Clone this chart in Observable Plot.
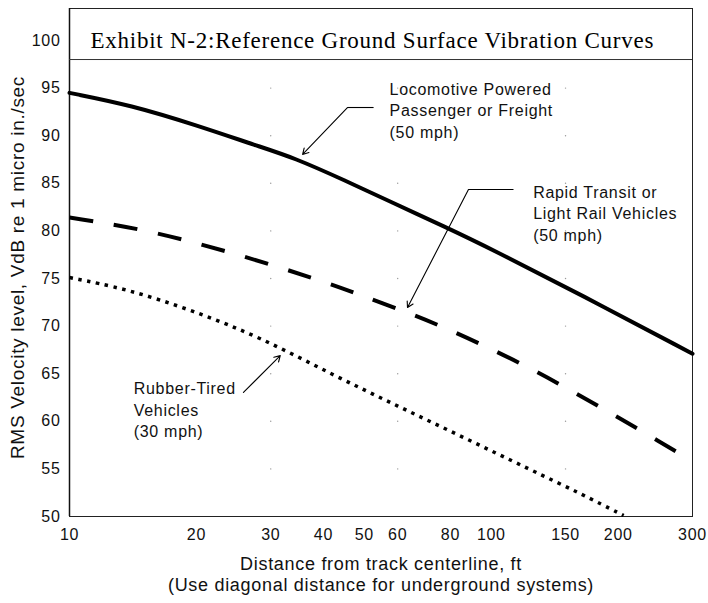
<!DOCTYPE html>
<html><head><meta charset="utf-8">
<script src="https://cdn.jsdelivr.net/npm/d3@7"></script>
<script src="https://cdn.jsdelivr.net/npm/@observablehq/plot@0.6"></script>
<style>
body{margin:0;background:#fff;}
#chart svg{display:block;}
#chart text{letter-spacing:0.7px;}
#chart g[font-family*="Serif"] text{letter-spacing:0.75px;}
</style></head><body><div id="chart"></div>
<script>
const title = "Exhibit N-2:Reference Ground Surface Vibration Curves";
const xLabelLines = ["Distance from track centerline, ft", "(Use diagonal distance for underground systems)"];
const yLabel = "RMS Velocity level, VdB re 1 micro in./sec";

const xTicks = [10, 20, 30, 40, 50, 60, 80, 100, 150, 200, 300];
const yTicks = [50, 55, 60, 65, 70, 75, 80, 85, 90, 95, 100];
const gridX = [30, 60, 150];
const gridY = [55, 60, 65, 70, 75, 80, 85, 90, 95];
const titleBoxBottom = [98.0];

// Locomotive Powered Passenger or Freight (50 mph)
const locoX = [10, 14, 20, 28, 34, 45, 58, 78, 100, 163, 300];
const locoY = [94.5, 93.2, 91.1, 88.9, 87.7, 85.3, 83.0, 80.4, 78.1, 73.3, 67.1];
// Rapid Transit or Light Rail Vehicles (50 mph)
const rapidX = [10, 15, 24.5, 40, 48, 62, 79, 100, 126, 158, 200, 250, 300];
const rapidY = [81.4, 80.2, 77.7, 74.7, 73.4, 71.6, 69.7, 67.6, 65.4, 63.0, 60.4, 57.9, 55.8];
// Rubber-Tired Vehicles (30 mph)
const rubberX = [10, 13.7, 19.7, 28.4, 42, 60, 86, 124, 163, 206];
const rubberY = [75.1, 73.9, 71.6, 68.8, 64.9, 61.6, 58.3, 54.9, 52.4, 50.1];

// annotation labels
const noteText = ["Locomotive Powered\nPassenger or Freight\n(50 mph)", "Rapid Transit or\nLight Rail Vehicles\n(50 mph)", "Rubber-Tired\nVehicles\n(30 mph)"];
const noteX = [57.4, 125.7, 14.2];
const noteY = [92.75, 81.96, 61.31];
// leader horizontal segments
const leaderX1 = [52.6, 112.9];
const leaderX2 = [45.6, 88.3];
const leaderY = [92.96, 84.35];
// arrows
const arrowX1 = [45.6, 88.3, 25.85];
const arrowY1 = [92.96, 84.35, 63.03];
const arrowX2 = [35.7, 63.3, 31.6];
const arrowY2 = [88.03, 71.95, 66.9];

const mk = (X, Y) => X.map((x, i) => ({x, y: Y[i]}));
const loco = mk(locoX, locoY), rapid = mk(rapidX, rapidY), rubber = mk(rubberX, rubberY);
const notes = noteText.map((t, i) => ({t, x: noteX[i], y: noteY[i]}));
const leaders = leaderX1.map((x1, i) => ({x1, x2: leaderX2[i], y: leaderY[i]}));
const arrows = arrowX1.map((x1, i) => ({x1, y1: arrowY1[i], x2: arrowX2[i], y2: arrowY2[i]}));
const grid = gridX.flatMap(x => gridY.map(y => ({x, y})));

const plot = Plot.plot({
  width: 708, height: 603,
  marginLeft: 69, marginRight: 16, marginTop: 8, marginBottom: 87,
  style: {fontFamily: "'Liberation Sans', Arial, sans-serif", fontSize: "16px", color: "#111", background: "#fff"},
  x: {type: "log", domain: [10, 300]},
  y: {domain: [50, 103.36]},
  marks: [
    Plot.dot(grid, {x: "x", y: "y", r: 0.7, fill: "#999", stroke: null}),
    Plot.axisX({ticks: xTicks, tickFormat: d => String(d), tickSize: 0, tickPadding: 12, fontSize: 16, label: null}),
    Plot.axisY({ticks: yTicks, tickSize: 0, tickPadding: 9, fontSize: 16, label: null}),
    Plot.frame({stroke: "#222", strokeWidth: 1}),
    Plot.ruleX([10], {stroke: "#111", strokeWidth: 1.5}),
    Plot.ruleY(titleBoxBottom, {stroke: "#333", strokeWidth: 1}),
    Plot.text([title], {frameAnchor: "top-left", dx: 21, dy: 32.5, lineAnchor: "middle", textAnchor: "start",
      fontFamily: "'Liberation Serif', 'Times New Roman', serif", fontSize: 23, fill: "#000"}),
    Plot.line(loco, {x: "x", y: "y", curve: "basis", stroke: "#000", strokeWidth: 4}),
    Plot.line(rapid, {x: "x", y: "y", curve: "basis", stroke: "#000", strokeWidth: 4, strokeDasharray: "24,21", strokeLinecap: "butt"}),
    Plot.line(rubber, {x: "x", y: "y", curve: "basis", stroke: "#000", strokeWidth: 3.5, strokeDasharray: "3.5,5.5", strokeLinecap: "butt"}),
    Plot.link(leaders, {x1: "x1", x2: "x2", y1: "y", y2: "y", stroke: "#000", strokeWidth: 1.1}),
    Plot.arrow(arrows, {x1: "x1", y1: "y1", x2: "x2", y2: "y2", stroke: "#000", strokeWidth: 1.1, headLength: 9}),
    Plot.text(notes, {x: "x", y: "y", text: "t", textAnchor: "start", lineAnchor: "middle", lineHeight: 1.35, fontSize: 16, fill: "#111"}),
    Plot.text([yLabel], {frameAnchor: "left", rotate: -90, dx: -52, dy: 5, fontSize: 19, fill: "#111", textAnchor: "middle"}),
    Plot.text([xLabelLines[0]], {frameAnchor: "bottom", dy: 53, fontSize: 18, fill: "#111"}),
    Plot.text([xLabelLines[1]], {frameAnchor: "bottom", dy: 74, fontSize: 18, fill: "#111"})
  ]
});
document.getElementById("chart").appendChild(plot);
</script></body></html>
